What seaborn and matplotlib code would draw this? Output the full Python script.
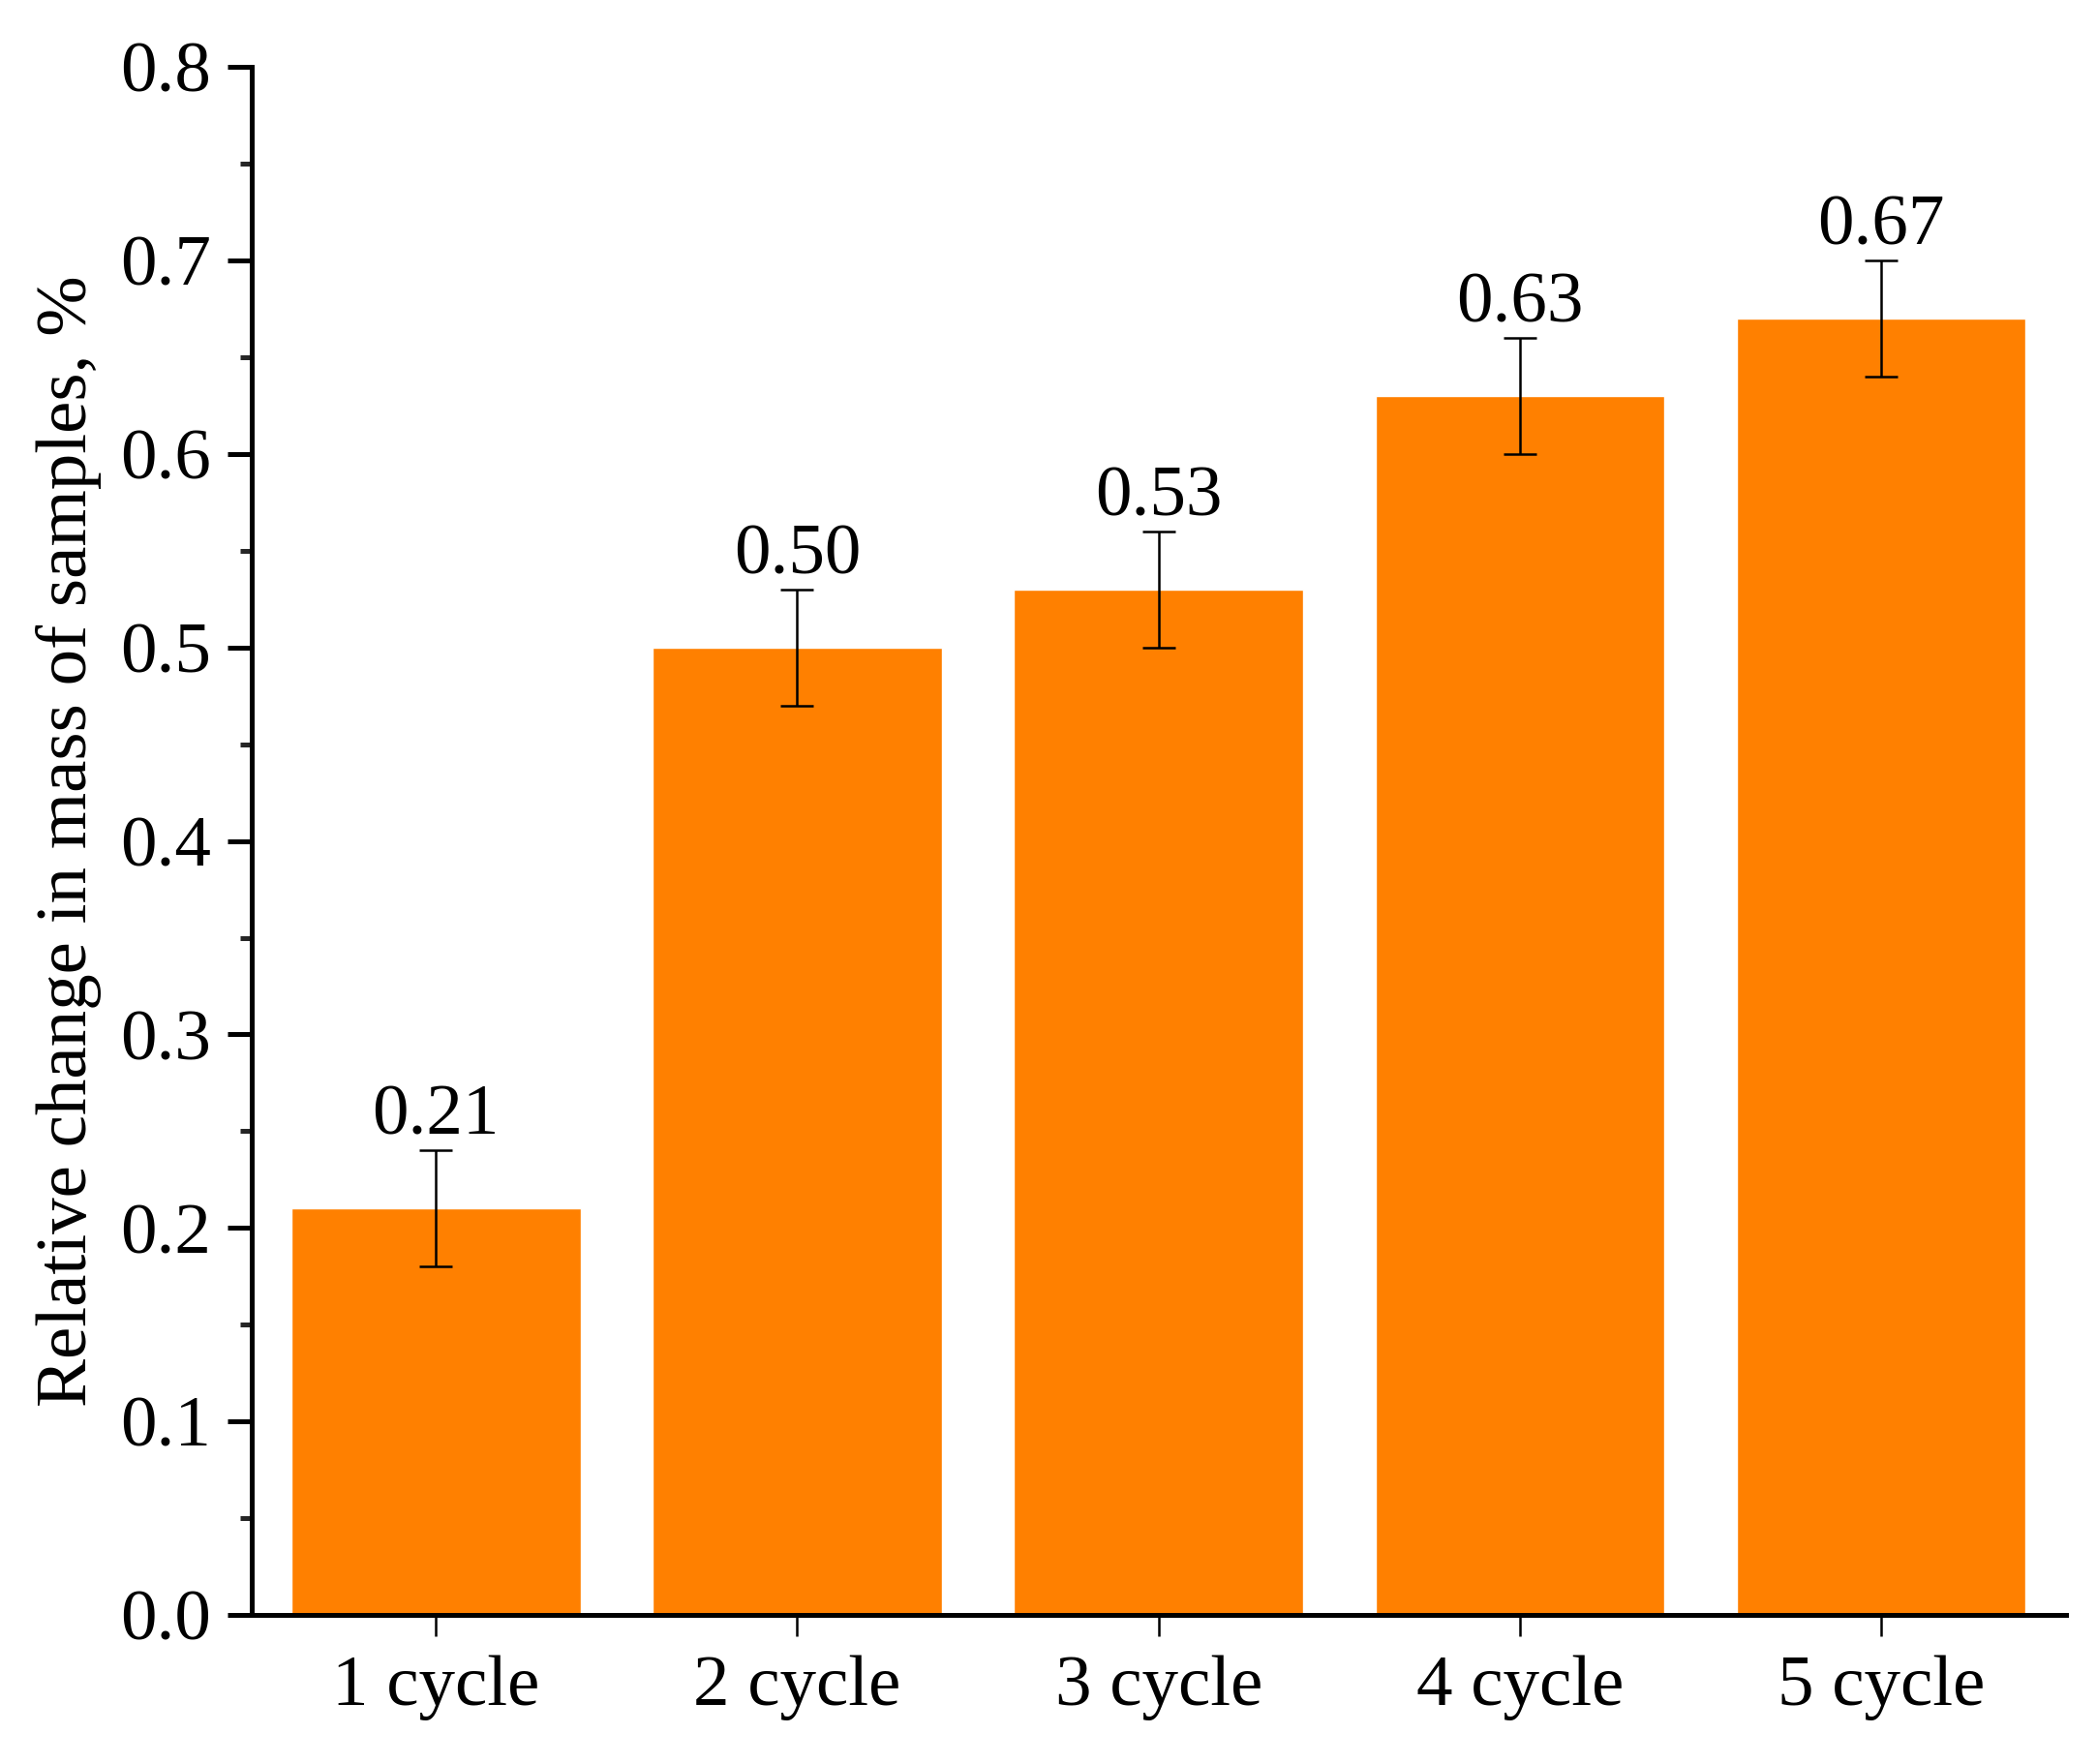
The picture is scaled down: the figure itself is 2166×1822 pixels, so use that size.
import numpy as np
import pandas as pd
import matplotlib
matplotlib.use('Agg')
import matplotlib.pyplot as plt
import seaborn as sns
from matplotlib.ticker import MultipleLocator, FormatStrFormatter

# data
cycles = ['1 cycle', '2 cycle', '3 cycle', '4 cycle', '5 cycle']
mass_change = [0.21, 0.50, 0.53, 0.63, 0.67]
errors = [0.03, 0.03, 0.03, 0.03, 0.03]
labels = ['0.21', '0.50', '0.53', '0.63', '0.67']

df = pd.DataFrame({'cycle': cycles, 'value': mass_change, 'err': errors})

sns.set_style('ticks')
plt.rcParams['font.family'] = ['Liberation Serif', 'DejaVu Serif']
plt.rcParams['text.color'] = 'black'

fig = plt.figure(figsize=(21.66, 18.22), dpi=100)
ax = fig.add_axes([0.120, 0.0845, 0.865, 0.8775])

sns.barplot(data=df, x='cycle', y='value', color='#FF8000', saturation=1,
            width=0.8, errorbar=None, ax=ax)

# error bars
ax.errorbar(np.arange(len(cycles)), df['value'], yerr=df['err'], fmt='none',
            ecolor='black', elinewidth=1.8, capsize=12.5, capthick=1.8)

# value labels above error bars
for i, (v, e, t) in enumerate(zip(mass_change, errors, labels)):
    ax.annotate(t, xy=(i, v + e), xytext=(0, 12), textcoords='offset points',
                ha='center', va='baseline', fontsize=54, color='black')

ax.set_xlim(-0.51, 4.51)
ax.set_ylim(0, 0.8)
ax.yaxis.set_major_locator(MultipleLocator(0.1))
ax.yaxis.set_minor_locator(MultipleLocator(0.05))
ax.yaxis.set_major_formatter(FormatStrFormatter('%.1f'))

ax.set_xlabel('')
ax.set_ylabel('Relative change in mass of samples, %', fontsize=54,
              labelpad=14, color='black')

for s in ['top', 'right']:
    ax.spines[s].set_visible(False)
for s in ['left', 'bottom']:
    ax.spines[s].set_linewidth(3.6)
    ax.spines[s].set_color('black')

ax.tick_params(axis='y', which='major', direction='out', length=18, width=3.6,
               labelsize=54, pad=12, colors='black')
ax.tick_params(axis='y', which='minor', direction='out', length=9, width=3.6)
ax.tick_params(axis='x', which='major', direction='out', length=16, width=1.8,
               labelsize=54, pad=14, colors='black')

plt.savefig('out.png', dpi=100)
